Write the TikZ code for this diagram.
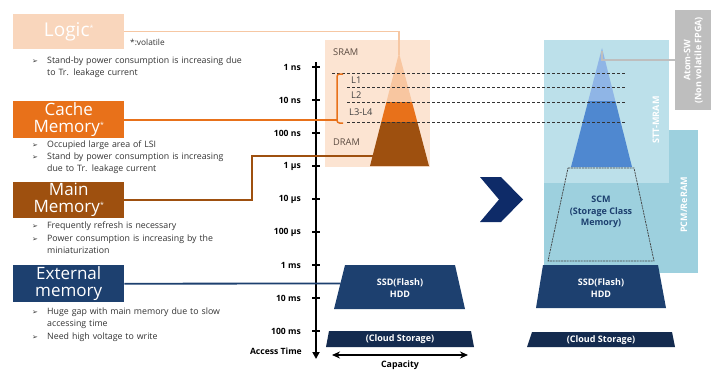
\documentclass[tikz,border=0pt]{standalone}
\usepackage{fontspec}
\setmainfont{Open Sans}
\newfontfamily\symfont{DejaVu Sans}
\usetikzlibrary{arrows.meta}
\definecolor{logicc}{HTML}{F9D6BC}
\definecolor{logicl}{HTML}{F6C7A3}
\definecolor{cachec}{HTML}{E8711A}
\definecolor{mainc}{HTML}{9E500F}
\definecolor{extc}{HTML}{1D406F}
\definecolor{cloudc}{HTML}{142B4F}
\definecolor{peachbg}{HTML}{FCE4D2}
\definecolor{trilight}{HTML}{F8C6A0}
\definecolor{sttc}{HTML}{BCE0EA}
\definecolor{pcmc}{HTML}{9DD0DE}
\definecolor{tblight}{HTML}{8FB5E6}
\definecolor{tbdark}{HTML}{4F88D0}
\definecolor{chevc}{HTML}{0E2B68}
\definecolor{atomc}{HTML}{BEBEBE}
\definecolor{txtc}{HTML}{333333}
\definecolor{lblc}{HTML}{5A4A40}
\newcommand{\vstar}{\raisebox{0.6ex}{\fontsize{7}{7}\selectfont *}}
\begin{document}
\begin{tikzpicture}[x=1pt,y=-1pt,
  tbox/.style={anchor=north west, minimum width=111pt, inner sep=0pt, text=white, align=center, font=\fontsize{17}{17}\selectfont},
  bul/.style={anchor=north west, inner sep=0pt, align=left, text width=230pt, font=\fontsize{8.8}{12.2}\selectfont, text=txtc},
  arw/.style={inner sep=0pt, font=\symfont\fontsize{7}{7}\selectfont, text=txtc},
  ticklbl/.style={anchor=east, inner sep=0pt, font=\bfseries\fontsize{8.6}{9}\selectfont, text=black},
  conn/.style={line width=1.8pt},
  dline/.style={line width=0.8pt, densely dashed, draw=black!80},
  small/.style={inner sep=0pt, font=\fontsize{9.3}{10}\selectfont, text=lblc},
  wlbl/.style={inner sep=0pt, align=center, text=white, font=\bfseries\fontsize{9}{12}\selectfont},
  rlbl/.style={inner sep=0pt, rotate=90, align=center, text=white, font=\bfseries\fontsize{9}{11}\selectfont}
]
\useasboundingbox (0,0) rectangle (711,369);
\fill[white] (0,0) rectangle (711,369);

% ---------- left title boxes ----------
\node[tbox, fill=logicc, minimum height=35pt, font=\fontsize{19}{20}\selectfont] (logic) at (13,14) {Logic\vstar};
\node[tbox, fill=cachec, minimum height=37pt] (cache) at (13,101) {Cache\\Memory\vstar};
\node[tbox, fill=mainc, minimum height=36pt] (main) at (13,182) {Main\\Memory\vstar};
\node[tbox, fill=extc, minimum height=37pt] (ext) at (13,265) {External\\memory};

\node[inner sep=0pt, anchor=west, font=\fontsize{8.3}{9}\selectfont, text=txtc] (vol) at (130,42) {*:volatile};

% ---------- bullets ----------
\node[arw] (a1) at (35,62) {➢};
\node[bul] (b1) at (47,56.5) {Stand-by power consumption is increasing due\\to Tr. leakage current};
\node[arw] (a2) at (35,146) {➢};
\node[bul] (b2) at (47,140.5) {Occupied large area of LSI};
\node[arw] (a3) at (35,158) {➢};
\node[bul] (b3) at (47,152.5) {Stand by power consumption is increasing\\due to Tr. leakage current};
\node[arw] (a4) at (35,227) {➢};
\node[bul] (b4) at (47,221.5) {Frequently refresh is necessary};
\node[arw] (a5) at (35,240) {➢};
\node[bul] (b5) at (47,234.5) {Power consumption is increasing by the\\miniaturization};
\node[arw] (a6) at (35,313) {➢};
\node[bul] (b6) at (47,307.5) {Huge gap with main memory due to slow\\accessing time};
\node[arw] (a7) at (35,338) {➢};
\node[bul] (b7) at (47,332.5) {Need high voltage to write};

% ---------- left pyramid ----------
\fill[peachbg] (325,40) rectangle (430,167);
\node[small, anchor=west] (sram) at (333,52) {SRAM};
\node[small, anchor=west] (dram) at (333,142) {DRAM};
\begin{scope}
  \clip (399,53) -- (429,166) -- (370,166) -- cycle;
  \fill[trilight] (360,50) rectangle (440,102);
  \fill[cachec] (360,102) rectangle (440,122);
  \fill[mainc] (360,122) rectangle (440,167);
\end{scope}
\coordinate (lapex) at (399,55);
\coordinate (ltri) at (373,156);

% ---------- right pyramid ----------
\fill[pcmc] (544,130) rectangle (698,273);
\fill[sttc] (544,40) rectangle (669,183);
\node[rlbl] (stt) at (656,120) {STT-MRAM};
\node[rlbl] (pcm) at (684,205) {PCM/ReRAM};
\begin{scope}
  \clip (602,48) -- (632,167) -- (571,167) -- cycle;
  \fill[tblight] (560,40) rectangle (640,101);
  \fill[tbdark] (560,101) rectangle (640,168);
\end{scope}
\coordinate (rapex) at (602,51);
\draw[line width=0.7pt, draw=black!75, dash pattern=on 2pt off 0.8pt] (568,168) -- (634,168) -- (654,261) -- (548,261) -- cycle;
\node[inner sep=0pt, align=center, text=extc, font=\bfseries\fontsize{9}{11.5}\selectfont] (scm) at (601,212) {SCM\\(Storage Class\\Memory)};

\node[fill=atomc, minimum width=36pt, minimum height=100pt, anchor=north west, inner sep=0pt] (atom) at (675,10) {};
\node[rlbl] (atomt) at (atom.center) {Atom-SW\\(Non volatile FPGA)};
\draw[atomc, line width=1.8pt] (atom.west) -| (rapex);

% ---------- storage trapezoids ----------
\fill[extc] (345,265) -- (455,265) -- (465,309) -- (334,309) -- cycle;
\node[wlbl] (lssd) at (400,288) {SSD(Flash)\\HDD};
\fill[cloudc] (329,331) -- (471,331) -- (474,347) -- (326,347) -- cycle;
\node[wlbl] (lcloud) at (400,339.5) {(Cloud Storage)};
\coordinate (ssdl) at (340.5,283.5);

\fill[extc] (543,265) -- (658,265) -- (666,308) -- (536,308) -- cycle;
\node[wlbl] (rssd) at (601,288) {SSD(Flash)\\HDD};
\fill[cloudc] (532,332) -- (672,332) -- (675,347) -- (527,347) -- cycle;
\node[wlbl] (rcloud) at (601,340) {(Cloud Storage)};

% ---------- dashed level lines ----------
\draw[dline] (332,73) -- (625,73);
\draw[dline] (347,87) -- (625,87);
\draw[dline] (347,102) -- (625,102);
\draw[dline] (347,122) -- (625,122);
\node[small, anchor=west, text=black!75] (l1) at (351,80) {L1};
\node[small, anchor=west, text=black!75] (l2) at (351,95) {L2};
\node[small, anchor=west, text=black!75] (l34) at (349,112) {L3-L4};

% ---------- chevron ----------
\fill[chevc] (480,177) -- (501,177) -- (523,199.5) -- (501,222) -- (480,222) -- (499,199.5) -- cycle;

% ---------- axis ----------
\draw[line width=1.8pt, -{Triangle[length=7pt,width=7pt]}] (316,62) -- (316,359);
\foreach \yy/\lab in {67/1 ns,100/10 ns,133/100 ns,166/1 µs,199/10 µs,232/100 µs,265/1 ms,298/10 ms,331/100 ms}{
  \draw[line width=1.5pt] (312,\yy) -- (320,\yy);
  \node[ticklbl] at (301,\yy) {\lab};
}
\node[ticklbl] (atime) at (302,351) {Access Time};

% ---------- capacity ----------
\draw[line width=1.3pt, {Stealth[length=8pt,width=7pt]}-{Stealth[length=8pt,width=7pt]}] (332,355) -- (468,355);
\node[inner sep=0pt, font=\bfseries\fontsize{8.8}{9}\selectfont] (cap) at (400,365) {Capacity};

% ---------- connectors ----------
\draw[logicl, line width=1.5pt] (logic.east) -| (lapex);
\draw[cachec, conn] (cache.east) -- (cache.east -| 337,0);
\draw[cachec, line width=1.5pt, rounded corners=2.5pt] (343,74) -| (337,123) -- (343,123);
\draw[mainc, conn] (main.east) -- (main.east -| 252,0) |- (ltri);
\draw[extc, conn] (ext.east) -- (ssdl);
\end{tikzpicture}
\end{document}
